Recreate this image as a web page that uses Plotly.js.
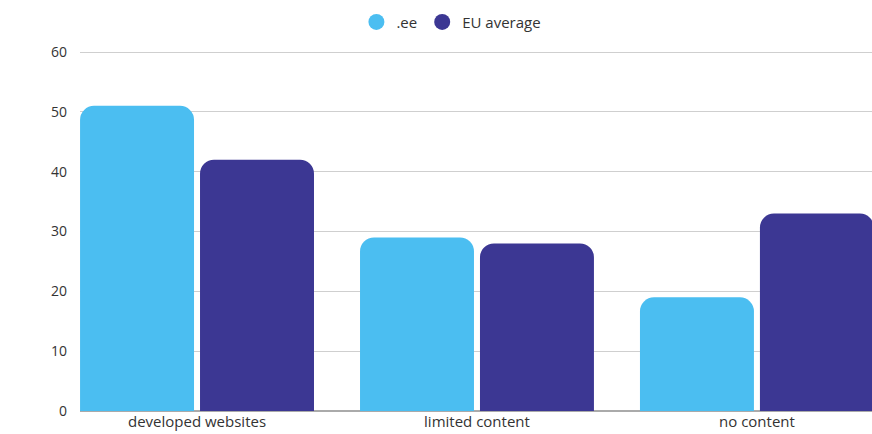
<!DOCTYPE html>
<html>
<head>
<meta charset="utf-8">
<script src="https://cdn.plot.ly/plotly-3.0.1.min.js"></script>
<style>html,body{margin:0;padding:0;background:#fff;}#chart{width:872px;height:434px;}</style>
</head>
<body>
<div id="chart"></div>
<script>
const categories = ["developed websites", "limited content", "no content"];
const seriesNames = [".ee", "EU average"];
const eeValues = [51, 29, 19];
const euValues = [42, 28, 33];
const yTicks = [0, 10, 20, 30, 40, 50, 60];

const colors = ["#4BBEF1", "#3C3793"];
const fam = "'Open Sans', Lato, sans-serif";

const traces = [
  {type: "bar", x: categories, y: eeValues, name: seriesNames[0], marker: {color: colors[0], cornerradius: 14}, showlegend: false},
  {type: "bar", x: categories, y: euValues, name: seriesNames[1], marker: {color: colors[1], cornerradius: 14}, showlegend: false},
  {type: "scatter", mode: "markers", x: [null], y: [null], name: seriesNames[0], marker: {color: colors[0], size: 16, symbol: "circle"}, showlegend: true},
  {type: "scatter", mode: "markers", x: [null], y: [null], name: seriesNames[1], marker: {color: colors[1], size: 16, symbol: "circle"}, showlegend: true}
];

const layout = {
  width: 872, height: 434,
  margin: {l: 80, r: 0, t: 51, b: 23},
  paper_bgcolor: "#fff", plot_bgcolor: "#fff",
  font: {family: fam, size: 14, color: "#333"},
  barmode: "group",
  bargap: 0.143,
  bargroupgap: 0.05,
  showlegend: true,
  legend: {orientation: "h", x: 0.349, xanchor: "left", xref: "paper", yref: "container", y: 0.949, yanchor: "middle", font: {family: fam, size: 15, color: "#333"}, itemwidth: 30, tracegroupgap: 0},
  xaxis: {type: "category", range: [-0.418, 2.411], showgrid: false, showline: false, zeroline: false, ticks: "", tickfont: {size: 15, color: "#333"}, ticklabelstandoff: 0},
  yaxis: {range: [0, 60.17], tickvals: yTicks, ticktext: yTicks.map(String), showgrid: true, gridcolor: "#cfcfcf", gridwidth: 1, zeroline: true, zerolinecolor: "#aaa", zerolinewidth: 1.5, showline: false, ticks: "", ticklabelstandoff: 12, tickfont: {size: 14, color: "#333"}}
};

Plotly.newPlot("chart", traces, layout, {displayModeBar: false, staticPlot: true});
</script>
</body>
</html>
